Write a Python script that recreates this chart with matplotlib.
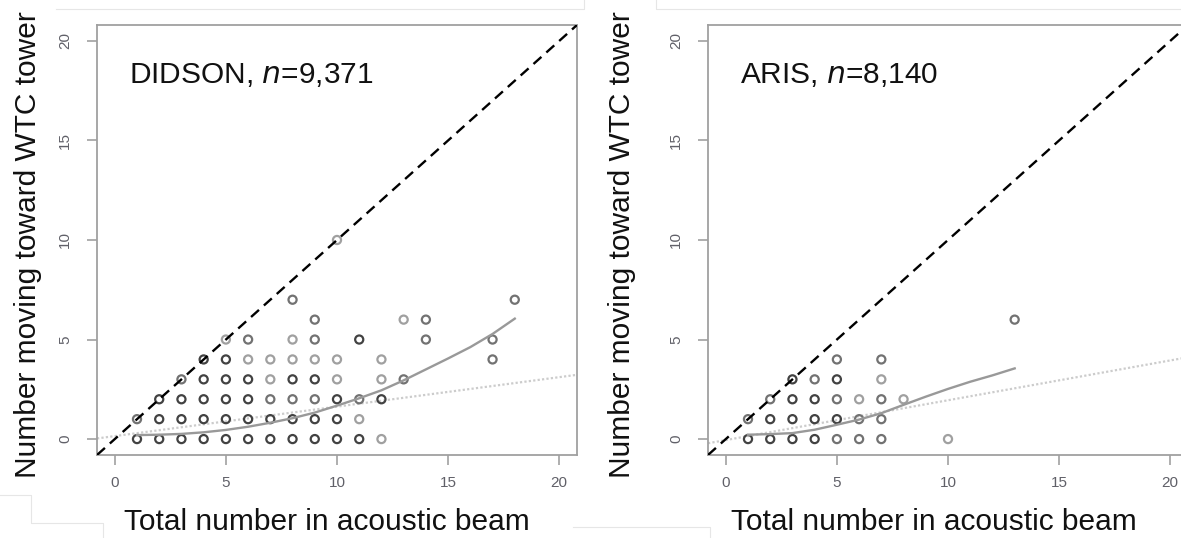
import numpy as np
import matplotlib.pyplot as plt
from matplotlib.lines import Line2D

plt.rcParams['font.family'] = ['Liberation Sans', 'DejaVu Sans']

# DIDSON panel: observed (total, moving toward) pairs and how heavily they overlap (1 light .. 3 dark)
didson_total = [1, 2, 3, 4, 5, 6, 7, 8, 9, 10, 11, 12,
                1, 2, 3, 4, 5, 6, 7, 8, 9, 10, 11,
                2, 3, 4, 5, 6, 7, 8, 9, 10, 11, 12,
                3, 4, 5, 6, 7, 8, 9, 10, 12, 13,
                4, 5, 6, 7, 8, 9, 10, 12, 17,
                5, 6, 8, 9, 11, 14, 17,
                9, 13, 14,
                8, 18,
                10]
didson_toward = [0] * 12 + [1] * 11 + [2] * 11 + [3] * 10 + [4] * 9 + [5] * 7 + [6] * 3 + [7] * 2 + [10]
didson_overlap = [3, 3, 3, 3, 3, 3, 3, 3, 3, 3, 3, 1,
                  2, 3, 3, 3, 3, 3, 3, 3, 3, 3, 1,
                  3, 3, 3, 3, 3, 2, 2, 2, 3, 2, 3,
                  2, 3, 3, 3, 1, 3, 3, 1, 1, 2,
                  3, 3, 1, 1, 1, 1, 1, 1, 2,
                  1, 2, 1, 2, 3, 2, 2,
                  2, 1, 2,
                  2, 2,
                  1]
didson_smooth_x = [1, 2, 3, 4, 5, 6, 7, 8, 9, 10, 11, 12, 13, 14, 15, 16, 17, 18]
didson_smooth_y = [0.2, 0.22, 0.26, 0.34, 0.46, 0.62, 0.82, 1.05, 1.33, 1.68, 2.05, 2.45,
                   2.95, 3.5, 4.05, 4.62, 5.28, 6.05]
didson_lm = (0.15, 0.148)  # intercept, slope of the dotted fit

# ARIS panel
aris_total = [1, 2, 3, 4, 5, 6, 7, 10,
              1, 2, 3, 4, 5, 6, 7,
              2, 3, 4, 5, 6, 7, 8,
              3, 4, 5, 7,
              5, 7,
              13]
aris_toward = [0] * 8 + [1] * 7 + [2] * 7 + [3] * 4 + [4] * 2 + [6]
aris_overlap = [3, 3, 3, 3, 2, 2, 2, 1,
                2, 3, 3, 3, 3, 2, 2,
                2, 3, 3, 2, 1, 2, 1,
                3, 2, 3, 1,
                2, 2,
                2]
aris_smooth_x = [1, 2, 3, 4, 5, 6, 7, 8, 9, 10, 11, 12, 13]
aris_smooth_y = [0.22, 0.25, 0.3, 0.47, 0.72, 0.98, 1.3, 1.72, 2.13, 2.52, 2.88, 3.2, 3.55]
aris_lm = (-0.05, 0.2)

ticks = [0, 5, 10, 15, 20]
xlabel = 'Total number in acoustic beam'
ylabel = 'Number moving toward WTC tower'

shade = {1: '#a0a0a0', 2: '#727272', 3: '#424242'}

W, H = 1181, 538
fig = plt.figure(figsize=(W / 100, H / 100), dpi=100)


def panel(left_px, total, toward, overlap, sx, sy, lm, label, n):
    ax = fig.add_axes([left_px / W, (H - 455) / H, 480 / W, 430 / H])
    ax.set_xlim(-0.8, 20.8)
    ax.set_ylim(-0.8, 20.8)
    cols = [shade[o] for o in overlap]
    ax.scatter(total, toward, s=34, facecolors='none', edgecolors=cols, linewidths=1.6, zorder=2)
    ax.axline((0, lm[0]), slope=lm[1], color='#cccccc', lw=1.6, ls=(0, (1, 1)), zorder=1)
    ax.plot(sx, sy, color='#999999', lw=1.7, zorder=3)
    ax.axline((0, 0), slope=1, color='black', lw=1.7, dashes=(4.5, 2.8), zorder=4)
    ax.text(0.65, 18.3, label + ', $\\it{n}$=' + n, fontsize=21.5, ha='left', va='center', color='#111111')
    ax.set_xticks(ticks)
    ax.set_yticks(ticks)
    ax.tick_params(axis='both', colors='#999999', labelcolor='#606068', length=7, width=1.1, labelsize=11)
    ax.tick_params(axis='x', pad=8)
    ax.tick_params(axis='y', pad=11, labelrotation=90)
    for lab in ax.get_yticklabels():
        lab.set_va('center')
    for s in ax.spines.values():
        s.set_color('#a0a0a0')
        s.set_linewidth(1.3)
    return ax


ax1 = panel(97, didson_total, didson_toward, didson_overlap, didson_smooth_x, didson_smooth_y,
            didson_lm, 'DIDSON', '9,371')
ax2 = panel(708, aris_total, aris_toward, aris_overlap, aris_smooth_x, aris_smooth_y,
            aris_lm, 'ARIS', '8,140')

fig.text(327 / W, 1 - 522 / H, xlabel, fontsize=21.5, ha='center', va='center', color='#111111')
fig.text(934 / W, 1 - 522 / H, xlabel, fontsize=21.5, ha='center', va='center', color='#111111')
fig.text(28 / W, 1 - 245 / H, ylabel, fontsize=21.5, rotation=90, ha='center', va='center', color='#111111')
fig.text(622 / W, 1 - 245 / H, ylabel, fontsize=21.5, rotation=90, ha='center', va='center', color='#111111')

# faint frame edges left over from the pasted panels
faint = '#e6e6e6'
for xs, ys in [([56, 584, 584], [9, 9, 0]), ([656, 656, 1181], [0, 9, 9]),
               ([0, 31, 31, 103, 103], [495, 495, 523, 523, 538]),
               ([573, 710, 710], [527, 527, 538])]:
    fig.add_artist(Line2D([x / W for x in xs], [1 - y / H for y in ys], color=faint, lw=0.8))

fig.savefig('out.png', dpi=100)
